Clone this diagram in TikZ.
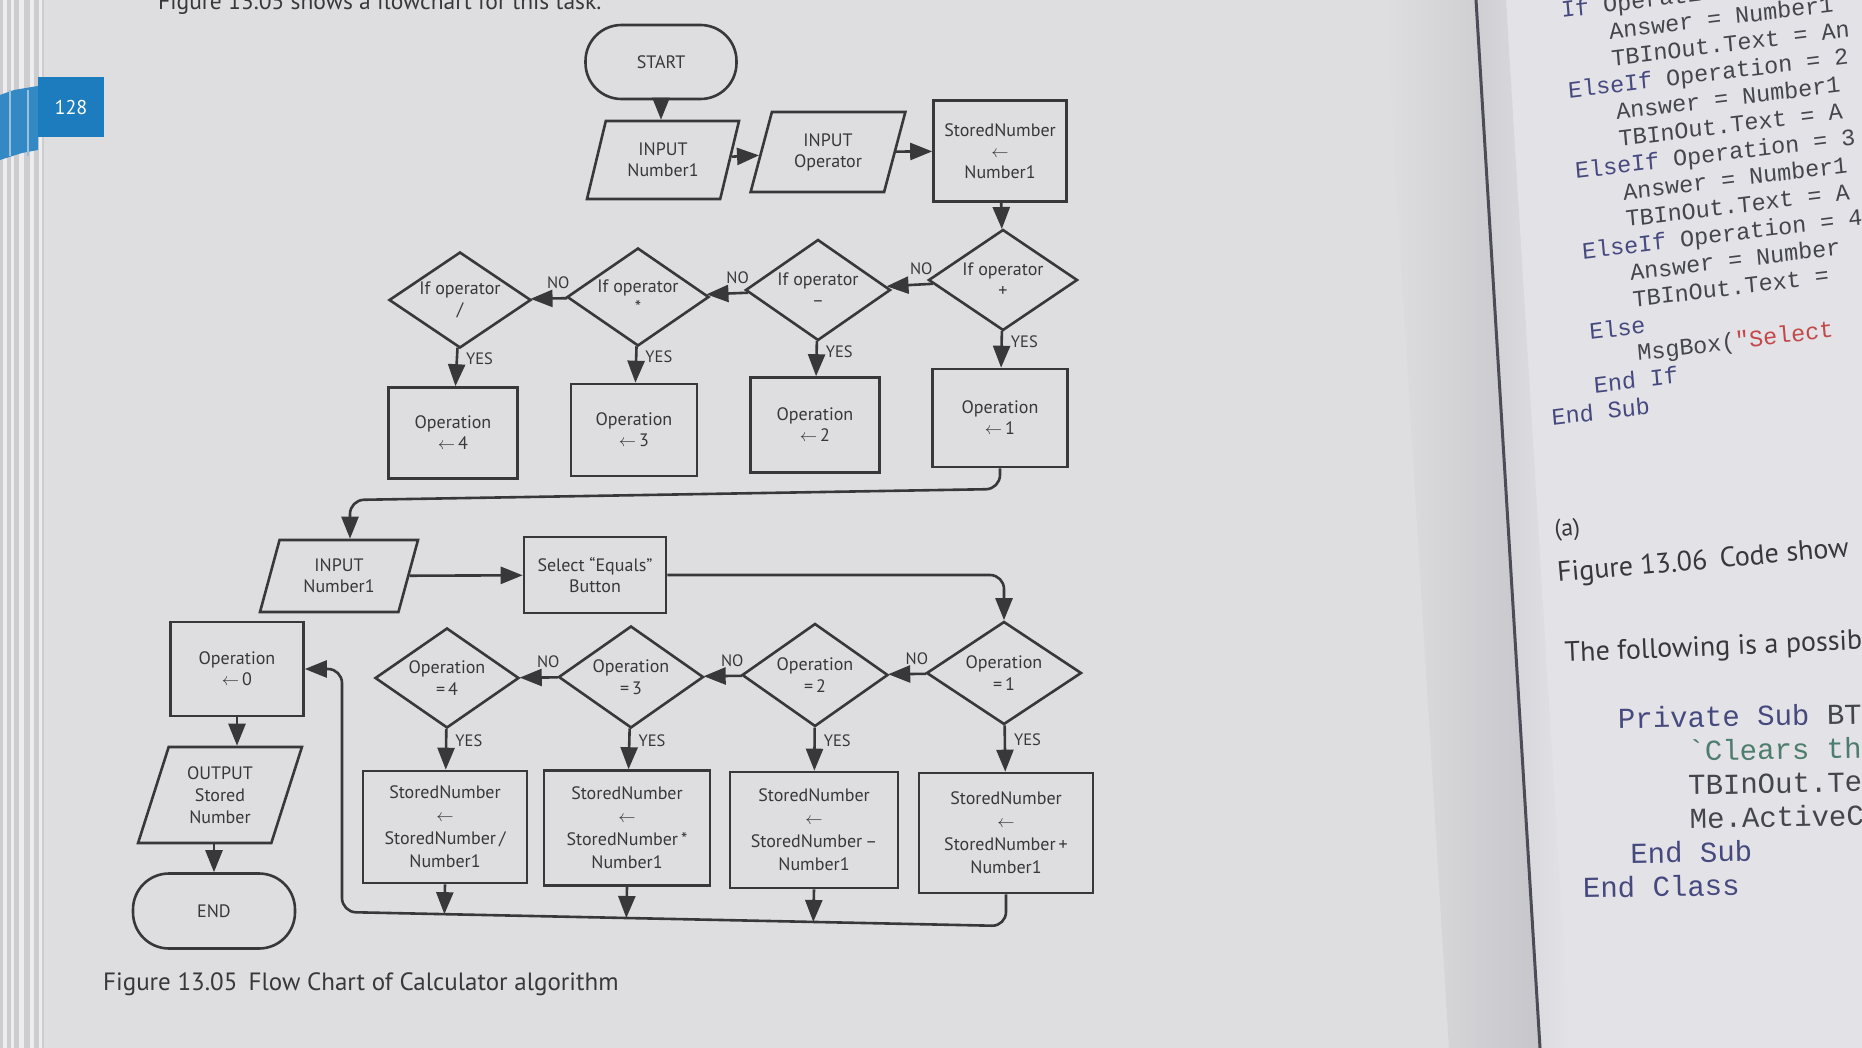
\documentclass[tikz,border=0pt]{standalone}
\usepackage{fontspec}
\setmainfont{PT Sans}
\newfontfamily\codefont{Liberation Mono}
\usetikzlibrary{shapes.geometric,arrows.meta,calc}
\definecolor{ink}{HTML}{38383B}
\definecolor{pageL}{HTML}{DEDEE0}
\definecolor{pageLd}{HTML}{C6C6CB}
\definecolor{pageR}{HTML}{E3E2E7}
\definecolor{edge}{HTML}{CDCDD0}
\definecolor{edgelt}{HTML}{EDEDEF}
\definecolor{tabblue}{HTML}{1C7CBD}
\definecolor{codeblue}{HTML}{46497E}
\definecolor{codegray}{HTML}{45454D}
\definecolor{codegreen}{HTML}{4E7D6E}
\definecolor{codered}{HTML}{C2484A}
\definecolor{binding}{HTML}{4C4C58}
\begin{document}
\begin{tikzpicture}[x=1pt,y=-1pt,
  flow/.style={draw=ink, line width=2.6pt, text=ink, font=\fontsize{18}{21}\selectfont, align=center, inner sep=0pt},
  proc/.style={flow, rectangle},
  dec/.style={flow, diamond, shape aspect=1.5},
  io/.style={flow, trapezium, trapezium left angle=71, trapezium right angle=109, trapezium stretches=true},
  term/.style={flow, rectangle, rounded corners=36pt},
  arr/.style={draw=ink, line width=2.6pt, -{Triangle[length=22pt,width=17pt]}},
  lbl/.style={text=ink, font=\fontsize{16.5}{18}\selectfont},
  nolbl/.style={lbl, above, inner sep=8pt},
  yeslbl/.style={lbl, right, inner sep=8pt},
  ptext/.style={anchor=base west, inner sep=0pt, text=ink},
]
\useasboundingbox (0,0) rectangle (1862,1048);
\clip (0,0) rectangle (1862,1048);
% ---------- pages ----------
\fill[pageL] (0,0) -- (1476,0) -- (1540,1048) -- (0,1048) -- cycle;
\fill[pageR] (1476,0) -- (1862,0) -- (1862,1048) -- (1540,1048) -- cycle;
\shade[left color=pageL, right color=pageLd] (1385,0) -- (1476,0) -- (1540,1048) -- (1449,1048) -- cycle;
\shade[left color=pageR!80!gray, right color=pageR] (1476,0) -- (1506,0) -- (1570,1048) -- (1540,1048) -- cycle;
\draw[binding, line width=3pt] (1476,0) -- (1540,1048);
% page edges at the left
\fill[edge] (0,0) rectangle (44,1048);
\foreach \x/\w in {3/4, 11/3, 19/5, 30/4, 39/3}{
  \fill[edgelt] (\x,0) rectangle ++(\w,1048);
}
\fill[tabblue!90!white] (0,95) -- (14,90) -- (38,86) -- (38,150) -- (22,153) -- (0,160) -- cycle;
\foreach \x/\w in {9/2, 27/2}{
  \fill[edgelt!60!tabblue] (\x,90) rectangle ++(\w,66);
}
\fill[tabblue] (38,77) rectangle (104,137);
\node[text=white, font=\fontsize{20}{24}\selectfont, inner sep=0pt] (pnum) at (71,108) {128};
% ---------- texts of the left page ----------
\node[ptext, font=\fontsize{23.5}{28}\selectfont] (toptext) at (158,10) {Figure 13.05 shows a flowchart for this task.};
\node[ptext, font=\fontsize{25}{30}\selectfont] (cap) at (103,990) {Figure 13.05\hspace{0.45em}Flow Chart of Calculator algorithm};
% ---------- flowchart nodes ----------
\node[term, minimum width=151pt, minimum height=74pt] (start) at (661,62) {START};
\node[io, minimum width=153pt, minimum height=78pt] (in1) at (663,160) {INPUT\\Number1};
\node[io, minimum width=156pt, minimum height=80pt] (inop) at (828,152) {INPUT\\Operator};
\node[proc, minimum width=133pt, minimum height=101pt, font=\fontsize{18}{21}\selectfont] (sn) at (1000,151) {StoredNumber\\$\leftarrow$\\Number1};
\node[dec, minimum width=149pt, minimum height=101pt] (d1) at (1003,280) {If operator\\+};
\node[dec, minimum width=145pt, minimum height=101pt] (d2) at (818,290) {If operator\\–};
\node[dec, minimum width=142pt, minimum height=98pt] (d3) at (638,297) {If operator\\*};
\node[dec, minimum width=142pt, minimum height=96pt] (d4) at (460,300) {If operator\\/};
\node[proc, minimum width=135pt, minimum height=98pt] (o1) at (1000,418) {Operation\\$\leftarrow$\,1};
\node[proc, minimum width=129pt, minimum height=95pt] (o2) at (815,425) {Operation\\$\leftarrow$\,2};
\node[proc, minimum width=126pt, minimum height=92pt] (o3) at (634,430) {Operation\\$\leftarrow$\,3};
\node[proc, minimum width=129pt, minimum height=91pt] (o4) at (453,433) {Operation\\$\leftarrow$\,4};
\node[io, minimum width=159pt, minimum height=72pt] (in2) at (339,576) {INPUT\\Number1};
\node[proc, minimum width=142pt, minimum height=76pt] (sel) at (595,575) {Select “Equals”\\Button};
\node[dec, minimum width=155pt, minimum height=103pt, font=\fontsize{18}{22}\selectfont] (e1) at (1004,673) {Operation\\=\,1};
\node[dec, minimum width=146pt, minimum height=103pt, font=\fontsize{18}{22}\selectfont] (e2) at (815,675) {Operation\\=\,2};
\node[dec, minimum width=145pt, minimum height=102pt, font=\fontsize{18}{22}\selectfont] (e3) at (631,677) {Operation\\=\,3};
\node[dec, minimum width=144pt, minimum height=100pt, font=\fontsize{18}{22}\selectfont] (e4) at (447,678) {Operation\\=\,4};
\node[proc, minimum width=174pt, minimum height=120pt, font=\fontsize{18}{23}\selectfont] (s1) at (1006,833) {StoredNumber\\$\leftarrow$\\StoredNumber\,+\\Number1};
\node[proc, minimum width=168pt, minimum height=116pt, font=\fontsize{18}{23}\selectfont] (s2) at (814,830) {StoredNumber\\$\leftarrow$\\StoredNumber\,–\\Number1};
\node[proc, minimum width=166pt, minimum height=115pt, font=\fontsize{18}{23}\selectfont] (s3) at (627,828) {StoredNumber\\$\leftarrow$\\StoredNumber\,*\\Number1};
\node[proc, minimum width=164pt, minimum height=112pt, font=\fontsize{18}{23}\selectfont] (s4) at (445,827) {StoredNumber\\$\leftarrow$\\StoredNumber\,/\\Number1};
\node[proc, minimum width=133pt, minimum height=94pt] (op0) at (237,669) {Operation\\$\leftarrow$\,0};
\node[io, minimum width=164pt, minimum height=96pt, font=\fontsize{18}{22}\selectfont] (out) at (220,795) {OUTPUT\\Stored\\Number};
\node[term, minimum width=162pt, minimum height=75pt] (endn) at (214,911) {END};
% ---------- connectors ----------
\draw[arr] (start.south) -- (start.south |- in1.top side);
\draw[arr] (in1) -- (inop);
\draw[arr] (inop) -- (sn);
\draw[arr] (sn) -- (d1);
\draw[arr] (d1) -- node[nolbl, pos=0.25] {NO} (d2);
\draw[arr] (d2) -- node[nolbl, pos=0.25] {NO} (d3);
\draw[arr] (d3) -- node[nolbl, pos=0.25] {NO} (d4);
\draw[arr] (d1) -- node[yeslbl, pos=0.3] {YES} (o1);
\draw[arr] (d2) -- node[yeslbl, pos=0.3] {YES} (o2);
\draw[arr] (d3) -- node[yeslbl, pos=0.3] {YES} (o3);
\draw[arr] (d4) -- node[yeslbl, pos=0.3] {YES} (o4);
\coordinate (r1) at (1000,489);
\coordinate (r2) at (350,500);
\draw[arr, rounded corners=14pt] (o1.south) -- (o1.south |- r1) -- (r2) -- (r2 |- in2.top side);
\draw[arr] (in2) -- (sel);
\draw[arr, rounded corners=14pt] (sel.east) -- (sel.east -| e1.north) -- (e1.north);
\draw[arr] (e1) -- node[nolbl, pos=0.25] {NO} (e2);
\draw[arr] (e2) -- node[nolbl, pos=0.25] {NO} (e3);
\draw[arr] (e3) -- node[nolbl, pos=0.25] {NO} (e4);
\draw[arr] (e1) -- node[yeslbl, pos=0.3] {YES} (s1);
\draw[arr] (e2) -- node[yeslbl, pos=0.3] {YES} (s2);
\draw[arr] (e3) -- node[yeslbl, pos=0.3] {YES} (s3);
\draw[arr] (e4) -- node[yeslbl, pos=0.3] {YES} (s4);
\coordinate (b1) at (1006,926);
\coordinate (b2) at (342,912);
\draw[arr, rounded corners=14pt] (s1.south) -- (s1.south |- b1) -- (b2) -- (b2 |- op0.east) -- (op0.east);
\draw[arr] (s2.south) -- ($(b2)!(s2.south)!(b1)$);
\draw[arr] (s3.south) -- ($(b2)!(s3.south)!(b1)$);
\draw[arr] (s4.south) -- ($(b2)!(s4.south)!(b1)$);
\draw[arr] (op0.south) -- (op0.south |- out.top side);
\draw[arr] (endn.north |- out.bottom side) -- (endn.north);
% ---------- right page ----------
\node[anchor=base west, inner sep=0pt, rotate=7, xslant=0.035, text=codegray,
      font=\codefont\fontsize{23.5}{26.9}\selectfont] (code1) at (1517,23.5) {%
\begin{tabular}[t]{@{}l@{}}
\hspace*{45pt}\textcolor{codeblue}{If} Operation\\
\hspace*{91pt}Answer = Number1\\
\hspace*{91pt}TBInOut.Text = An\\
\hspace*{45pt}\textcolor{codeblue}{ElseIf} Operation = 2\\
\hspace*{91pt}Answer = Number1\\
\hspace*{91pt}TBInOut.Text = A\\
\hspace*{45pt}\textcolor{codeblue}{ElseIf} Operation = 3\\
\hspace*{91pt}Answer = Number1\\
\hspace*{91pt}TBInOut.Text = A\\
\hspace*{45pt}\textcolor{codeblue}{ElseIf} Operation = 4\\
\hspace*{91pt}Answer = Number\\
\hspace*{91pt}TBInOut.Text =\\
\hspace*{45pt}\textcolor{codeblue}{Else}\\
\hspace*{91pt}MsgBox(\textcolor{codered}{"Select}\\
\hspace*{45pt}\textcolor{codeblue}{End If}\\
\textcolor{codeblue}{End Sub}
\end{tabular}};
\node[ptext, rotate=5, font=\fontsize{24}{28}\selectfont] (pa) at (1555,537) {(a)};
\node[ptext, rotate=5, font=\fontsize{28}{32}\selectfont] (fig6) at (1558,582) {Figure 13.06\hspace{0.45em}Code show};
\node[ptext, rotate=2.5, font=\fontsize{28}{32}\selectfont] (follow) at (1565,662) {The following is a possib};
\node[anchor=base west, inner sep=0pt, rotate=1, text=codegray,
      font=\codefont\fontsize{29}{33.8}\selectfont] (code2) at (1580,729) {%
\begin{tabular}[t]{@{}l@{}}
\hspace*{38pt}\textcolor{codeblue}{Private Sub} BT\\
\hspace*{107pt}\textcolor{codegreen}{`Clears th}\\
\hspace*{107pt}TBInOut.Te\\
\hspace*{108pt}Me.ActiveC\\
\hspace*{48pt}\textcolor{codeblue}{End Sub}\\
\textcolor{codeblue}{End Class}
\end{tabular}};
\end{tikzpicture}
\end{document}
